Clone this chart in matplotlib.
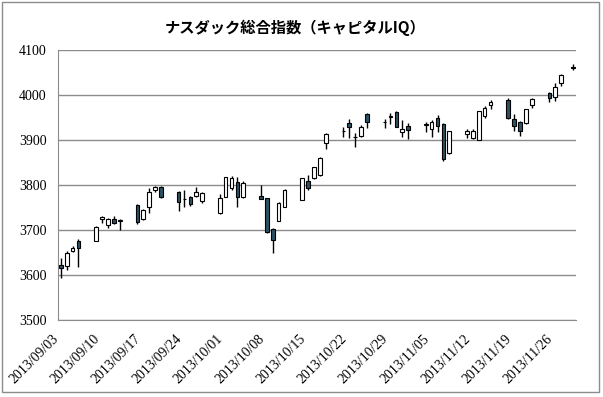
import pandas as pd
import matplotlib
matplotlib.use("Agg")
import matplotlib.pyplot as plt
import matplotlib.dates as mdates
from matplotlib.patches import Rectangle

# daily OHLC
dates = ["2013-09-03", "2013-09-04", "2013-09-05", "2013-09-06",
         "2013-09-09", "2013-09-10", "2013-09-11", "2013-09-12", "2013-09-13",
         "2013-09-16", "2013-09-17", "2013-09-18", "2013-09-19", "2013-09-20",
         "2013-09-23", "2013-09-24", "2013-09-25", "2013-09-26", "2013-09-27",
         "2013-09-30", "2013-10-01", "2013-10-02", "2013-10-03", "2013-10-04",
         "2013-10-07", "2013-10-08", "2013-10-09", "2013-10-10", "2013-10-11",
         "2013-10-14", "2013-10-15", "2013-10-16", "2013-10-17", "2013-10-18",
         "2013-10-21", "2013-10-22", "2013-10-23", "2013-10-24", "2013-10-25",
         "2013-10-28", "2013-10-29", "2013-10-30", "2013-10-31", "2013-11-01",
         "2013-11-04", "2013-11-05", "2013-11-06", "2013-11-07", "2013-11-08",
         "2013-11-11", "2013-11-12", "2013-11-13", "2013-11-14", "2013-11-15",
         "2013-11-18", "2013-11-19", "2013-11-20", "2013-11-21", "2013-11-22",
         "2013-11-25", "2013-11-26", "2013-11-27", "2013-11-29"]

opens = [3623, 3620, 3654, 3676,
         3676, 3725, 3712, 3724, 3721,
         3756, 3724, 3751, 3789, 3795,
         3785, 3768, 3773, 3776, 3765,
         3738, 3773, 3793, 3807, 3773,
         3776, 3771, 3702, 3721, 3752,
         3767, 3810, 3815, 3822, 3893,
         3921, 3937, 3906, 3910, 3957,
         3941, 3952, 3963, 3917, 3932,
         3934, 3924, 3950, 3935, 3871,
         3913, 3905, 3900, 3954, 3977,
         3988, 3946, 3939, 3937, 3978,
         4005, 3995, 4027, 4062]

highs = [3638, 3653, 3664, 3679,
         3708, 3730, 3726, 3730, 3724,
         3757, 3746, 3793, 3798, 3798,
         3787, 3789, 3776, 3795, 3785,
         3780, 3818, 3821, 3818, 3809,
         3800, 3772, 3704, 3763, 3792,
         3816, 3822, 3841, 3862, 3915,
         3929, 3946, 3915, 3933, 3960,
         3946, 3959, 3965, 3944, 3937,
         3939, 3944, 3955, 3937, 3920,
         3924, 3924, 3965, 3976, 3988,
         3994, 3957, 3942, 3970, 3993,
         4007, 4026, 4046, 4069]

lows = [3594, 3612, 3651, 3617,
        3675, 3715, 3704, 3713, 3701,
        3714, 3723, 3738, 3785, 3772,
        3743, 3752, 3754, 3773, 3761,
        3736, 3773, 3788, 3752, 3771,
        3768, 3694, 3649, 3720, 3751,
        3766, 3788, 3813, 3821, 3881,
        3907, 3904, 3885, 3906, 3926,
        3926, 3935, 3928, 3907, 3902,
        3918, 3907, 3918, 3853, 3869,
        3904, 3903, 3899, 3948, 3968,
        3946, 3920, 3909, 3936, 3972,
        3985, 3987, 4021, 4055]

closes = [3615, 3649, 3659, 3659,
          3707, 3729, 3724, 3715, 3722,
          3718, 3745, 3785, 3795, 3774,
          3763, 3770, 3758, 3785, 3782,
          3771, 3817, 3815, 3773, 3805,
          3770, 3695, 3678, 3760, 3790,
          3815, 3793, 3839, 3861, 3913,
          3919, 3929, 3907, 3929, 3940,
          3940, 3954, 3928, 3924, 3922,
          3935, 3939, 3932, 3857, 3919,
          3920, 3920, 3964, 3971, 3985,
          3948, 3932, 3920, 3969, 3991,
          3993, 4017, 4044, 4059]

tick_dates = ["2013-09-03", "2013-09-10", "2013-09-17", "2013-09-24",
              "2013-10-01", "2013-10-08", "2013-10-15", "2013-10-22",
              "2013-10-29", "2013-11-05", "2013-11-12", "2013-11-19",
              "2013-11-26"]
yticks = [3500, 3600, 3700, 3800, 3900, 4000, 4100]

title = "ナスダック総合指数（キャピタルIQ）"

df = pd.DataFrame({"o": opens, "h": highs, "l": lows, "c": closes},
                  index=pd.to_datetime(dates))
x = mdates.date2num(df.index.to_pydatetime())
up = df["c"] >= df["o"]

fig = plt.figure(figsize=(6.03, 3.97), dpi=100)
ax = fig.add_axes([0.096, 0.194, 0.859, 0.68])

grid_col = "#8c8c8c"
down_col = "#2d5263"

# wicks then bodies
ax.vlines(x, df["l"], df["h"], color="black", lw=1, zorder=2)
bottoms = df[["o", "c"]].min(axis=1)
heights = (df["c"] - df["o"]).abs()
ax.bar(x, heights, bottom=bottoms, width=0.62,
       color=["white" if u else down_col for u in up],
       edgecolor="black", linewidth=0.8, zorder=3)

ax.set_ylim(3500, 4100)
ax.set_yticks(yticks)
x0 = mdates.date2num(pd.Timestamp(dates[0])) - 0.5
x1 = mdates.date2num(pd.Timestamp(dates[-1])) + 0.5
ax.set_xlim(x0, x1)
tk = mdates.date2num(pd.to_datetime(tick_dates).to_pydatetime())
ax.set_xticks(tk)
ax.set_xticklabels([d.replace("-", "/") for d in tick_dates],
                   rotation=45, ha="right", va="top",
                   family="Liberation Serif", fontsize=10)
for lab in ax.get_yticklabels():
    lab.set_family("Liberation Serif")
    lab.set_fontsize(10)

ax.grid(axis="y", color=grid_col, lw=1, zorder=0)
ax.tick_params(length=0, pad=8)
ax.tick_params(axis="x", pad=9)
for s in ["top", "right"]:
    ax.spines[s].set_visible(False)
for s in ["left", "bottom"]:
    ax.spines[s].set_color(grid_col)

fig.text(0.49, 0.93, title, ha="center", va="center", fontsize=11,
         fontweight="bold", family=["Noto Sans CJK JP", "DejaVu Sans"])

# outer frame round the whole chart
fig.patches.append(Rectangle((0.004, 0.012), 0.99, 0.982, transform=fig.transFigure,
                             fill=False, edgecolor="#8c8c8c", lw=1))

fig.savefig("out.png", dpi=100)
